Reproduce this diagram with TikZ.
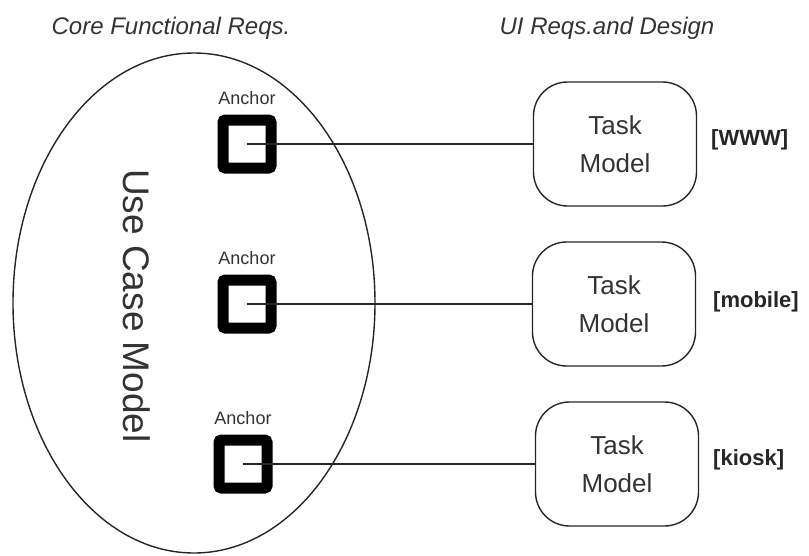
\documentclass[tikz,border=0pt]{standalone}
\usepackage{fontspec}
\setmainfont{Liberation Sans}
\usetikzlibrary{shapes.geometric}
\begin{document}
\begin{tikzpicture}[x=1pt,y=-1pt,
  ink/.style={draw=black!85, line width=1.4pt},
  usecase/.style={ellipse, ink, minimum width=362pt, minimum height=500pt, inner sep=0pt, outer sep=0pt},
  anchorbox/.style={rectangle, draw=black, line width=11pt, minimum size=48pt, inner sep=0pt, rounded corners=2.5pt, fill=white},
  anchorlbl/.style={font=\fontsize{18}{20}\selectfont, text=black!80, anchor=base, inner sep=0pt},
  taskbox/.style={rectangle, ink, rounded corners=34pt, minimum width=163pt, minimum height=124pt, inner sep=0pt, outer sep=0pt, align=center, font=\fontsize{26}{38}\selectfont, text=black!80},
  platform/.style={font=\bfseries\fontsize{22}{24}\selectfont, text=black!85, anchor=west, inner sep=0pt},
  heading/.style={font=\itshape\fontsize{24}{26}\selectfont, text=black!80, anchor=base, inner sep=0pt},
  link/.style={draw=black!85, line width=1.4pt}]

\useasboundingbox (0,0) rectangle (809,555);

% column headings
\node[heading] (h1) at (171,34) {Core Functional Reqs.};
\node[heading] (h2) at (607,34) {UI Reqs.and Design};

% use case model
\node[usecase] (uc) at (194,303) {};
\node[rotate=-90, font=\fontsize{37}{40}\selectfont, text=black!80, inner sep=0pt] (ucl) at (137,306) {Use Case Model};

% task models
\node[taskbox] (t1) at (615,144) {Task\\Model};
\node[taskbox] (t2) at (614,304) {Task\\Model};
\node[taskbox] (t3) at (617,464) {Task\\Model};

\node[platform] (p1) at (711,140) {[WWW]};
\node[platform] (p2) at (713,302) {[mobile]};
\node[platform] (p3) at (713,460) {[kiosk]};

% anchors
\node[anchorbox] (a1) at (247,144) {};
\node[anchorbox] (a2) at (247,304) {};
\node[anchorbox] (a3) at (243,464) {};

\node[anchorlbl] (l1) at ([yshift=10pt]a1.north) {Anchor};
\node[anchorlbl] (l2) at ([yshift=10pt]a2.north) {Anchor};
\node[anchorlbl] (l3) at ([yshift=10pt]a3.north) {Anchor};

% links
\draw[link] (a1.center) -- (a1.center -| t1.west);
\draw[link] (a2.center) -- (a2.center -| t2.west);
\draw[link] (a3.center) -- (a3.center -| t3.west);
\end{tikzpicture}
\end{document}
